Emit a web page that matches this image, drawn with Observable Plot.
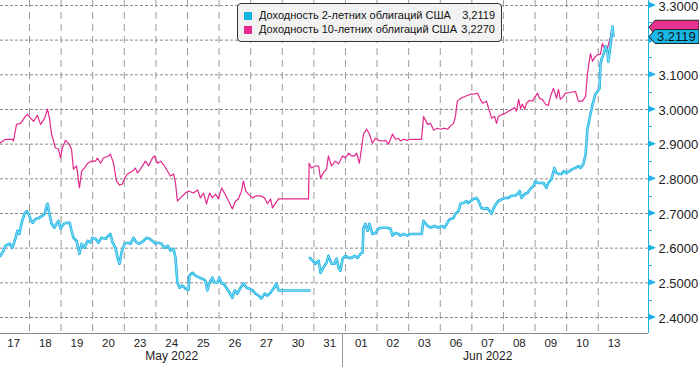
<!DOCTYPE html>
<html><head><meta charset="utf-8">
<script src="https://cdn.jsdelivr.net/npm/d3@7"></script>
<script src="https://cdn.jsdelivr.net/npm/@observablehq/plot@0.6"></script>
<style>
body{margin:0;background:#fff;font-family:"Liberation Sans",Arial,sans-serif;}
#wrap{position:relative;width:699px;height:367px;overflow:hidden}
#legend{position:absolute;left:237px;top:3px;width:265px;height:39px;border:1px solid #333;border-radius:4px;background:#f2f2f2;font-size:11px;color:#111;box-sizing:border-box}
.sw{position:absolute;left:6px;width:8px;height:8px}
.lab{position:absolute;left:21px;line-height:13px;white-space:nowrap}
.val{position:absolute;right:6px;line-height:13px}
</style></head>
<body><div id="wrap"></div>
<script>
// Series names and last values
const seriesNames = ["Доходность 2-летних облигаций США", "Доходность 10-летних облигаций США"];
const lastValues = [3.2119, 3.2270];
// Trading-day labels (x axis) and month labels
const dayLabels = ["17","18","19","20","23","24","25","26","27","30","31","01","02","03","06","07","08","09","10","13"];
const monthLabels = ["May 2022", "Jun 2022"];
const monthStartDay = [0, 11];
// Y ticks
const yTicks = [2.4, 2.5, 2.6, 2.7, 2.8, 2.9, 3.0, 3.1, 3.2, 3.3];
const yMinorTicks = [2.45, 2.55, 2.65, 2.75, 2.85, 2.95, 3.05, 3.15, 3.25];

// 10-year yield: [trading-day index (fractional), yield]
const tenYear = [[0.08,2.904],[0.24,2.914],[0.46,2.914],[0.49,2.909],[0.59,2.957],[0.72,2.960],[0.87,2.980],[0.94,2.986],[1.03,2.975],[1.13,2.966],[1.25,2.983],[1.35,2.957],[1.48,2.975],[1.57,3.001],[1.63,2.975],[1.70,2.929],[1.82,2.889],[1.92,2.886],[1.98,2.860],[2.04,2.889],[2.14,2.911],[2.23,2.903],[2.33,2.886],[2.39,2.828],[2.49,2.837],[2.58,2.774],[2.65,2.822],[2.74,2.831],[2.84,2.845],[2.96,2.851],[3.09,2.851],[3.15,2.860],[3.25,2.845],[3.34,2.860],[3.50,2.866],[3.56,2.871],[3.66,2.845],[3.75,2.794],[3.85,2.782],[3.94,2.785],[4.01,2.802],[4.10,2.814],[4.26,2.822],[4.35,2.831],[4.42,2.817],[4.51,2.828],[4.67,2.851],[4.77,2.837],[4.89,2.860],[4.96,2.866],[5.05,2.845],[5.15,2.851],[5.27,2.837],[5.37,2.822],[5.46,2.808],[5.56,2.814],[5.62,2.788],[5.68,2.736],[5.78,2.745],[5.94,2.759],[6.03,2.765],[6.19,2.759],[6.32,2.768],[6.41,2.745],[6.51,2.759],[6.60,2.728],[6.70,2.759],[6.79,2.745],[6.89,2.756],[6.98,2.742],[7.08,2.774],[7.17,2.759],[7.30,2.736],[7.42,2.713],[7.52,2.736],[7.61,2.742],[7.71,2.765],[7.77,2.794],[7.84,2.765],[7.93,2.756],[8.06,2.745],[8.18,2.751],[8.31,2.751],[8.44,2.745],[8.53,2.728],[8.63,2.742],[8.69,2.716],[8.79,2.730],[8.88,2.742],[9.83,2.742],[9.85,2.845],[9.92,2.831],[10.05,2.837],[10.15,2.837],[10.21,2.802],[10.30,2.817],[10.40,2.828],[10.46,2.866],[10.56,2.837],[10.68,2.851],[10.78,2.843],[10.91,2.866],[11.00,2.860],[11.10,2.874],[11.19,2.866],[11.29,2.866],[11.35,2.874],[11.44,2.845],[11.57,2.929],[11.67,2.943],[11.76,2.929],[11.85,2.903],[11.95,2.917],[12.04,2.911],[12.17,2.909],[12.27,2.911],[12.36,2.900],[12.49,2.929],[12.58,2.914],[12.68,2.917],[12.74,2.909],[12.84,2.914],[12.96,2.911],[13.06,2.914],[13.41,2.914],[13.47,2.980],[13.60,2.957],[13.69,2.960],[13.79,2.940],[13.91,2.946],[14.01,2.943],[14.13,2.946],[14.23,2.943],[14.32,2.952],[14.42,2.960],[14.48,2.980],[14.54,3.024],[14.64,3.032],[14.80,3.038],[14.96,3.044],[15.05,3.044],[15.18,3.047],[15.27,3.029],[15.34,3.018],[15.46,3.024],[15.56,2.995],[15.62,2.975],[15.72,2.980],[15.78,2.960],[15.84,2.980],[15.97,2.986],[16.06,2.989],[16.16,2.995],[16.29,3.001],[16.35,3.006],[16.41,2.995],[16.48,3.029],[16.54,3.003],[16.60,3.015],[16.67,3.001],[16.73,3.018],[16.82,3.026],[16.92,3.024],[17.01,3.038],[17.08,3.047],[17.14,3.032],[17.23,3.029],[17.33,3.015],[17.42,3.012],[17.49,3.038],[17.58,3.061],[17.68,3.032],[17.74,3.058],[17.80,3.029],[17.90,3.038],[17.96,3.047],[18.12,3.049],[18.28,3.052],[18.37,3.024],[18.50,3.024],[18.60,3.038],[18.66,3.104],[18.75,3.161],[18.82,3.139],[18.91,3.153],[19.01,3.159],[19.07,3.159],[19.13,3.190],[19.20,3.176],[19.26,3.167],[19.32,3.187],[19.39,3.210],[19.42,3.227]];

// 2-year yield: [trading-day index (fractional), yield]; NaN = no quotes
const twoYear = [[0.08,2.578],[0.18,2.593],[0.24,2.607],[0.37,2.613],[0.46,2.601],[0.56,2.630],[0.62,2.650],[0.68,2.641],[0.75,2.673],[0.84,2.699],[0.91,2.707],[0.97,2.699],[1.03,2.684],[1.10,2.673],[1.19,2.684],[1.29,2.687],[1.41,2.693],[1.48,2.699],[1.54,2.722],[1.57,2.728],[1.63,2.699],[1.70,2.670],[1.79,2.659],[1.85,2.670],[1.92,2.679],[1.98,2.656],[2.08,2.670],[2.17,2.673],[2.27,2.673],[2.33,2.650],[2.39,2.630],[2.49,2.621],[2.58,2.584],[2.65,2.613],[2.74,2.601],[2.84,2.621],[2.93,2.616],[2.99,2.630],[3.09,2.627],[3.18,2.616],[3.28,2.630],[3.41,2.627],[3.50,2.636],[3.56,2.641],[3.63,2.616],[3.72,2.601],[3.79,2.570],[3.85,2.555],[3.91,2.587],[4.01,2.613],[4.10,2.616],[4.20,2.613],[4.29,2.630],[4.39,2.616],[4.48,2.613],[4.61,2.621],[4.70,2.630],[4.80,2.627],[4.89,2.621],[4.99,2.613],[5.08,2.616],[5.18,2.613],[5.27,2.601],[5.37,2.607],[5.46,2.593],[5.56,2.598],[5.62,2.572],[5.68,2.501],[5.75,2.486],[5.84,2.492],[5.94,2.483],[6.03,2.480],[6.06,2.521],[6.16,2.529],[6.25,2.521],[6.38,2.515],[6.48,2.512],[6.57,2.506],[6.63,2.478],[6.70,2.501],[6.79,2.515],[6.85,2.501],[6.95,2.501],[7.01,2.515],[7.08,2.498],[7.14,2.498],[7.23,2.486],[7.33,2.472],[7.42,2.457],[7.49,2.478],[7.58,2.469],[7.68,2.486],[7.77,2.498],[7.87,2.486],[7.96,2.483],[8.06,2.478],[8.15,2.469],[8.25,2.463],[8.34,2.455],[8.44,2.469],[8.53,2.463],[8.63,2.472],[8.72,2.483],[8.82,2.498],[8.88,2.478],[9.86,2.478],[9.86,NaN],[9.87,2.572],[9.96,2.564],[10.05,2.555],[10.15,2.564],[10.21,2.529],[10.30,2.544],[10.40,2.558],[10.46,2.578],[10.56,2.555],[10.65,2.555],[10.72,2.570],[10.78,2.544],[10.84,2.535],[10.91,2.570],[11.00,2.578],[11.10,2.572],[11.19,2.572],[11.29,2.578],[11.38,2.572],[11.48,2.584],[11.54,2.587],[11.57,2.659],[11.63,2.670],[11.70,2.650],[11.76,2.670],[11.85,2.641],[11.95,2.644],[12.04,2.656],[12.14,2.659],[12.33,2.659],[12.42,2.656],[12.49,2.636],[12.58,2.644],[12.68,2.641],[12.74,2.636],[12.84,2.641],[12.96,2.636],[13.06,2.641],[13.15,2.641],[13.41,2.641],[13.47,2.679],[13.60,2.664],[13.69,2.659],[13.82,2.664],[13.94,2.659],[14.04,2.664],[14.13,2.659],[14.17,2.664],[14.26,2.679],[14.32,2.684],[14.42,2.687],[14.48,2.699],[14.58,2.707],[14.64,2.728],[14.73,2.730],[14.83,2.736],[14.89,2.730],[14.96,2.736],[15.05,2.742],[15.15,2.745],[15.21,2.736],[15.30,2.716],[15.40,2.713],[15.49,2.716],[15.56,2.707],[15.62,2.699],[15.68,2.713],[15.78,2.730],[15.84,2.736],[15.97,2.742],[16.06,2.745],[16.16,2.745],[16.25,2.751],[16.35,2.751],[16.44,2.756],[16.51,2.765],[16.57,2.745],[16.67,2.756],[16.76,2.759],[16.85,2.771],[16.95,2.779],[17.01,2.794],[17.08,2.788],[17.17,2.788],[17.27,2.788],[17.36,2.774],[17.42,2.788],[17.52,2.799],[17.61,2.831],[17.68,2.817],[17.74,2.814],[17.84,2.814],[17.90,2.822],[17.99,2.817],[18.09,2.822],[18.18,2.828],[18.28,2.831],[18.37,2.837],[18.44,2.831],[18.53,2.843],[18.60,2.871],[18.66,2.946],[18.69,2.957],[18.75,2.986],[18.82,3.015],[18.91,3.044],[18.98,3.052],[19.04,3.061],[19.07,3.130],[19.10,3.144],[19.17,3.159],[19.23,3.182],[19.29,3.167],[19.32,3.138],[19.39,3.187],[19.42,3.216],[19.45,3.239],[19.48,3.2119]];

const CYAN = "#1bb3e3", PINK = "#e2288a";
const xDom = [0.082, 20.59], yDom = [2.3539, 3.3143];
const dayIdx = d3.range(dayLabels.length);
const months = monthLabels.map((m, i) => ({label: m, center: (monthStartDay[i] + (monthStartDay[i + 1] ?? dayLabels.length)) / 2}));
// the 3.2000 label is hidden behind the last-value tag in the reference
const yLabelTicks = yTicks.filter(v => Math.abs(v - 3.2) > 1e-9);

const plot = Plot.plot({
  width: 699, height: 367,
  marginLeft: 0, marginRight: 51, marginTop: 0, marginBottom: 34,
  style: {fontFamily: "'Liberation Sans', Arial, sans-serif", background: "#fff", color: "#222", overflow: "visible"},
  x: {domain: xDom, axis: null, label: null},
  y: {domain: yDom, axis: null, label: null},
  marks: [
    Plot.ruleY(yTicks, {stroke: "#8a8a8a", strokeDasharray: "3,2"}),
    Plot.ruleX(dayIdx.slice(1), {stroke: "#9a9a9a", strokeDasharray: "7,5"}),
    Plot.ruleY([yDom[0]], {stroke: "#8a8a8a"}),
    Plot.ruleX([xDom[1]], {stroke: CYAN}),
    Plot.line(tenYear, {x: d => d[0], y: d => d[1], stroke: PINK, strokeWidth: 1.2, clip: true}),
    Plot.line(twoYear, {x: d => d[0], y: d => d[1], stroke: CYAN, strokeWidth: 2.6, clip: true}),
    Plot.line(twoYear, {x: d => d[0], y: d => d[1], stroke: "#a6e9fa", strokeWidth: 0.8, clip: true}),
    Plot.axisX(dayIdx.map(i => i + 0.5), {tickSize: 0, tickPadding: 5, fontSize: 11.5, label: null, tickFormat: d => dayLabels[Math.floor(d)]}),
    Plot.text(months, {x: "center", text: "label", frameAnchor: "bottom", dy: 26, fontSize: 12, fill: "#222"}),
    Plot.axisY(yLabelTicks, {anchor: "right", tickSize: 0, tickPadding: 10, fontSize: 13, dy: 1, label: null, tickFormat: d3.format(".4f")})
  ]
});

const wrap = document.getElementById("wrap");
wrap.appendChild(plot);
const svg = d3.select(plot);
const ys = plot.scale("y"), xs = plot.scale("x");
const xr = xs.apply(xDom[1]);
const g = svg.append("g").attr("text-anchor", "start");
// minor ticks
g.selectAll("line.mn").data(yMinorTicks).join("line")
  .attr("x1", xr).attr("x2", xr + 4).attr("y1", d => Math.round(ys.apply(d)) + 0.5).attr("y2", d => Math.round(ys.apply(d)) + 0.5)
  .attr("stroke", CYAN);
// major tick arrows
g.selectAll("path.mj").data(yTicks).join("path")
  .attr("d", d => { const y = ys.apply(d); return `M${xr},${y - 3.5}L${xr + 8},${y}L${xr},${y + 3.5}Z`; })
  .attr("fill", CYAN);
// month separator below axis
const xm = Math.round(xs.apply(monthStartDay[1])) - 2.5;
g.append("line").attr("x1", xm).attr("x2", xm).attr("y1", 333).attr("y2", 367).attr("stroke", "#999");
// last value tags (10y tag mostly hidden behind the 2y tag)
const y10 = ys.apply(lastValues[1]) - 3, y2 = ys.apply(lastValues[0]) + 1;
const tagPath = y => `M${xr + 1},${y}L${xr + 7},${y - 7}L${699},${y - 7}L${699},${y + 7}L${xr + 7},${y + 7}Z`;
g.append("path").attr("d", tagPath(y10)).attr("fill", "#e8308f").attr("stroke", "#222");
g.append("path").attr("d", tagPath(y2)).attr("fill", "#1ab6e6").attr("stroke", "#222");
g.append("text").attr("x", xr + 9).attr("y", y2).attr("dy", "0.36em").attr("font-size", 13).attr("fill", "#111").text(d3.format(".4f")(lastValues[0]));

// legend
const lg = document.createElement("div");
lg.id = "legend";
[0, 1].forEach(i => {
  const sw = document.createElement("div"); sw.className = "sw"; sw.style.background = i ? "#e8288c" : "#14b4e6"; sw.style.top = (8 + 14 * i) + "px"; lg.appendChild(sw);
  const lb = document.createElement("div"); lb.className = "lab"; lb.style.top = (5 + 14 * i) + "px"; lb.textContent = seriesNames[i]; lg.appendChild(lb);
  const vl = document.createElement("div"); vl.className = "val"; vl.style.top = (5 + 14 * i) + "px"; vl.textContent = d3.format(".4f")(lastValues[i]).replace(".", ","); lg.appendChild(vl);
});
wrap.appendChild(lg);
</script>
</body></html>
